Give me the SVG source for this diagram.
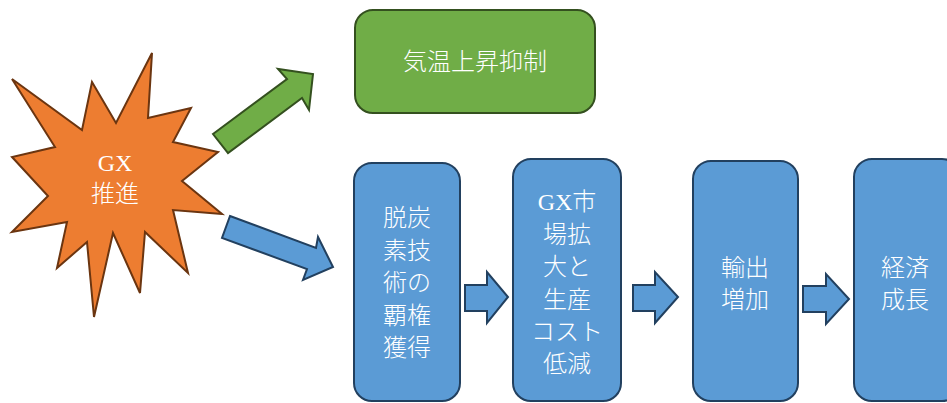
<svg xmlns="http://www.w3.org/2000/svg" width="947" height="403" viewBox="0 0 947 403">
<style>
text{font-family:"Liberation Serif","Noto Sans CJK JP",serif;font-size:24px;fill:#ffffff;text-anchor:middle;dominant-baseline:central}
.cjk{font-weight:300}
.blue{fill:#5B9BD5;stroke:#22405F;stroke-width:2}
.green{fill:#70AD47;stroke:#34501F;stroke-width:2}
.orange{fill:#ED7D31;stroke:#6B3510;stroke-width:2}
</style>
<g id="star">
<polygon class="orange" points="12,79 82,130 92,82 116,123 152,53 148,118 191,108 173,142 218,152 182,181 222,214 173,210 188,273 145,232 140,293 113,233 94,317 87,242 57,268 67,222 12,232 48,196 12,157 55,147"/>
<text x="115" y="163">GX</text>
<text class="cjk" x="115" y="194">推進</text>
</g>
<g id="goal">
<rect class="green" x="355" y="10" width="240" height="103" rx="18"/>
<text class="cjk" x="475" y="62">気温上昇抑制</text>
</g>
<g id="box1" class="cjk">
<rect class="blue" x="354" y="163" width="106" height="238" rx="18"/>
<text class="cjk" x="407" y="218">脱炭</text>
<text class="cjk" x="407" y="251">素技</text>
<text class="cjk" x="407" y="283">術の</text>
<text class="cjk" x="407" y="316">覇権</text>
<text class="cjk" x="407" y="348">獲得</text>
</g>
<g id="box2">
<rect class="blue" x="513" y="159" width="108" height="242" rx="18"/>
<text x="567" y="202">GX<tspan class="cjk">市</tspan></text>
<text class="cjk" x="567" y="235">場拡</text>
<text class="cjk" x="567" y="267">大と</text>
<text class="cjk" x="567" y="300">生産</text>
<text class="cjk" x="567" y="332">コスト</text>
<text class="cjk" x="567" y="364">低減</text>
</g>
<g id="box3">
<rect class="blue" x="693" y="161" width="105" height="240" rx="18"/>
<text class="cjk" x="745" y="268">輸出</text>
<text class="cjk" x="745" y="300">増加</text>
</g>
<g id="box4">
<rect class="blue" x="854" y="159" width="106" height="242" rx="18"/>
<text class="cjk" x="905" y="268">経済</text>
<text class="cjk" x="905" y="300">成長</text>
</g>
<g id="connectors">
<polygon class="green" points="213,134 287,79 278,69 313,74 309,110 302,98 228,153"/>
<polygon class="blue" points="230,216 316,248 318,237 333,267 303,280 307,269 222,238"/>
<polygon class="blue" points="465,285 487,285 487,272 508,297 487,323 487,311 465,311"/>
<polygon class="blue" points="633,285 655,285 655,272 678,297 655,323 655,311 633,311"/>
<polygon class="blue" points="803,286 826,286 826,274 849,299 826,324 826,312 803,312"/>
</g>
</svg>
